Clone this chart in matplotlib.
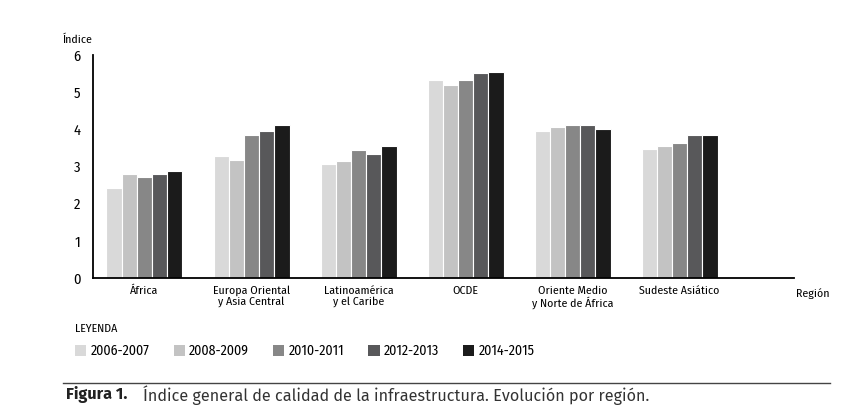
import numpy as np
import matplotlib.pyplot as plt
from matplotlib.patches import Patch

plt.rcParams['font.family'] = ['Fira Sans Condensed', 'Liberation Sans Narrow', 'DejaVu Sans']
pie_fuente = ['Fira Sans', 'Open Sans', 'DejaVu Sans']

regiones = ['África', 'Europa Oriental\ny Asia Central', 'Latinoamérica\ny el Caribe',
            'OCDE', 'Oriente Medio\ny Norte de África', 'Sudeste Asiático']
periodos = ['2006-2007', '2008-2009', '2010-2011', '2012-2013', '2014-2015']
colores = ['#d9d9d9', '#c3c3c3', '#878787', '#58585a', '#1b1b1b']

v_2006 = [2.43, 3.28, 3.06, 5.32, 3.95, 3.48]
v_2008 = [2.79, 3.17, 3.15, 5.19, 4.06, 3.56]
v_2010 = [2.71, 3.84, 3.45, 5.32, 4.13, 3.64]
v_2012 = [2.79, 3.95, 3.34, 5.51, 4.13, 3.86]
v_2014 = [2.88, 4.13, 3.56, 5.54, 4.02, 3.86]
series = [v_2006, v_2008, v_2010, v_2012, v_2014]

fig = plt.figure(figsize=(8.54, 4.17), dpi=100)
ax = fig.add_axes([0.109, 0.333, 0.821, 0.535])

x = np.arange(len(regiones))
w = 0.142
for i, (vals, c) in enumerate(zip(series, colores)):
    ax.bar(x + (i - 2) * w, vals, width=w, color=c, edgecolor='white', linewidth=0.8)

ax.set_xlim(-0.48, 6.07)
ax.set_ylim(0, 6)
ax.set_yticks(range(7))
ax.set_xticks(x)
ax.set_xticklabels(regiones, fontsize=8.5, linespacing=1.05)
ax.tick_params(axis='y', length=0, pad=9, labelsize=10.5)
ax.tick_params(axis='x', length=0, pad=5)
for s in ['top', 'right']:
    ax.spines[s].set_visible(False)
ax.spines['left'].set_linewidth(1.3)
ax.spines['bottom'].set_linewidth(1.3)

fig.text(0.073, 0.905, 'Índice', fontsize=8.5, va='center')
fig.text(0.952, 0.295, 'Región', fontsize=8.5, ha='center', va='center')
fig.text(0.088, 0.211, 'LEYENDA', fontsize=8.5, va='center')

handles = [Patch(facecolor=c, edgecolor='none') for c in colores]
fig.legend(handles, periodos, loc='center left', bbox_to_anchor=(0.088, 0.158), ncol=5,
           frameon=False, fontsize=10, handlelength=0.8, handleheight=0.8,
           handletextpad=0.3, columnspacing=1.75, borderaxespad=0, borderpad=0)

# pie de figura
fig.add_artist(plt.Line2D([0.074, 0.972], [0.082, 0.082], color='#444444', linewidth=1.0))
fig.text(0.077, 0.053, 'Figura 1.', fontsize=11.7, fontweight='bold', va='center',
         family=pie_fuente, color='#222222')
fig.text(0.168, 0.053, 'Índice general de calidad de la infraestructura. Evolución por región.',
         fontsize=11.7, va='center', family=pie_fuente, color='#333333')

fig.savefig('out.png', dpi=100)
